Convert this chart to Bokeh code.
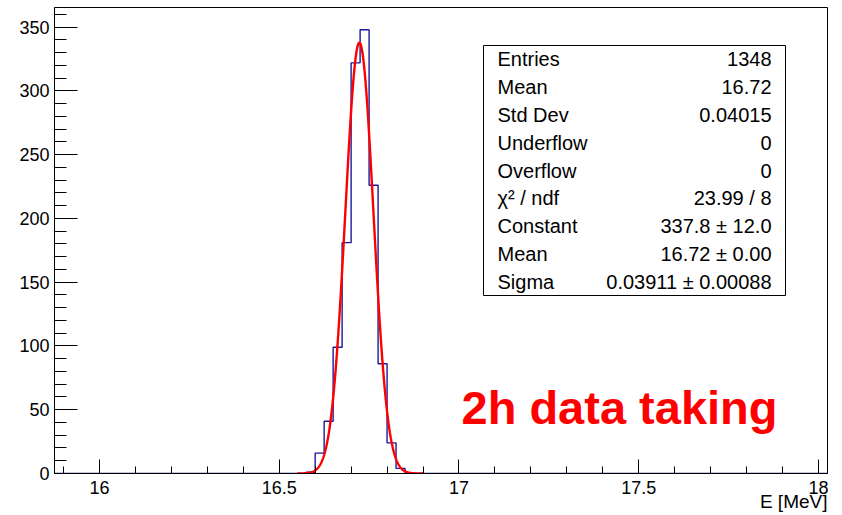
import numpy as np
from bokeh.plotting import figure
from bokeh.models import (Range1d, FixedTicker, CustomJSTickFormatter, Label,
                          BoxAnnotation, LinearAxis)
from bokeh.embed import file_html
from bokeh.resources import INLINE

# ---- data ----
x_min, x_max = 15.875, 18.025
y_max = 365.4
bin_width = 0.025
bin_left_edges = [16.575, 16.600, 16.625, 16.650, 16.675, 16.700,
                  16.725, 16.750, 16.775, 16.800, 16.825]
counts = [1, 16, 41, 99, 181, 322, 348, 226, 86, 24, 4]

fit_constant = 337.8
fit_mean = 16.723
fit_sigma = 0.03911
fit_lo, fit_hi = 16.55, 16.90

x_major = [16.0, 16.5, 17.0, 17.5, 18.0]
x_minor = [round(15.9 + 0.1 * i, 1) for i in range(22)]
y_major = [0, 50, 100, 150, 200, 250, 300, 350]
y_minor = list(range(0, 370, 10))
x_title = "E [MeV]"

stat_names = ["Entries", "Mean", "Std Dev", "Underflow", "Overflow",
              "χ² / ndf", "Constant", "Mean", "Sigma"]
stat_values = ["1348", "16.72", "0.04015", "0", "0",
               "23.99 / 8", "337.8 ± 12.0", "16.72 ± 0.00", "0.03911 ± 0.00088"]

W, H = 842, 515
FL, FR, FT, FB = 54, 827, 7, 473  # frame in pixel coords (top-left origin)

p = figure(width=W, height=H, output_backend="svg", toolbar_location=None,
           x_range=Range1d(x_min, x_max), y_range=Range1d(0, y_max),
           min_border_left=FL, min_border_right=W - FR,
           min_border_top=FT, min_border_bottom=H - FB)
p.grid.visible = False
p.outline_line_color = "black"
p.outline_line_width = 1
p.background_fill_color = "white"
p.border_fill_color = "white"

# histogram outline
edges = list(bin_left_edges) + [bin_left_edges[-1] + bin_width]
xs = [x_min] + edges + [x_max]
ys = [0] + list(counts) + [0, 0]
p.step(xs, ys, mode="after", line_color="#1a1a9a", line_width=1.4)

# gaussian fit
xf = np.linspace(fit_lo, fit_hi, 400)
yf = fit_constant * np.exp(-0.5 * ((xf - fit_mean) / fit_sigma) ** 2)
p.line(xf, yf, line_color="#ff0000", line_width=2.4)

font = "Liberation Sans"
xa = p.xaxis[0]
ya = p.yaxis[0]
for ax in (xa, ya):
    ax.axis_line_color = "black"
    ax.major_tick_line_color = "black"
    ax.minor_tick_line_color = "black"
    ax.major_tick_out = 0
    ax.minor_tick_out = 0
    ax.major_label_text_font = font
    ax.major_label_text_font_size = "18px"
    ax.major_label_text_color = "black"
    ax.axis_label = None

xa.ticker = FixedTicker(ticks=x_major, minor_ticks=x_minor)
xa.formatter = CustomJSTickFormatter(code="return String(Math.round(tick*10)/10)")
xa.major_tick_in = 14
xa.minor_tick_in = 7
xa.major_label_standoff = 7

ya.ticker = FixedTicker(ticks=y_major, minor_ticks=y_minor)
ya.major_tick_in = 23
ya.minor_tick_in = 12
ya.major_label_standoff = 5

# x-axis title, right-aligned to the frame end: a second, bare axis below
title_px = 19
px_per_unit = (FR - FL) / (x_max - x_min)
title_w = 3.557 * title_px  # Liberation Sans advance widths of "E [MeV]"
title_pos = x_max - (title_w / 2) / px_per_unit
xt = LinearAxis(ticker=FixedTicker(ticks=[title_pos], minor_ticks=[]),
                major_label_overrides={title_pos: x_title},
                axis_line_color=None, major_tick_line_color=None,
                minor_tick_line_color=None, major_tick_in=0, major_tick_out=0,
                minor_tick_in=0, minor_tick_out=0,
                major_label_text_font=font, major_label_text_font_size=f"{title_px}px",
                major_label_text_color="black", major_label_standoff=-6,
                axis_label=None)
p.add_layout(xt, "below")


def sx(x_pix):
    # screen units are relative to the frame's left edge
    return x_pix - FL


def sy(y_pix):
    # screen units are relative to the frame's bottom edge, upward
    return FB - y_pix


# stats box
bx0, bx1, by0, by1 = 483, 785, 45, 295
p.add_layout(BoxAnnotation(left=sx(bx0), right=sx(bx1), top=sy(by0), bottom=sy(by1),
                           left_units="screen", right_units="screen",
                           top_units="screen", bottom_units="screen",
                           fill_color="white", fill_alpha=1.0,
                           line_color="black", line_width=1, line_alpha=1.0))
row_h = (by1 - by0) / len(stat_names)
for i, (n, v) in enumerate(zip(stat_names, stat_values)):
    yc = by0 + row_h * (i + 0.5)
    p.add_layout(Label(x=sx(497), y=sy(yc), x_units="screen", y_units="screen",
                       text=n, text_font=font, text_font_size="20px",
                       text_align="left", text_baseline="middle", text_color="black"))
    p.add_layout(Label(x=sx(771), y=sy(yc), x_units="screen", y_units="screen",
                       text=v, text_font=font, text_font_size="20px",
                       text_align="right", text_baseline="middle", text_color="black"))

p.add_layout(Label(x=sx(461), y=sy(407), x_units="screen", y_units="screen",
                   text="2h data taking", text_font=font, text_font_size="47px",
                   text_font_style="bold", text_align="left", text_baseline="alphabetic",
                   text_color="#ff0000"))

open("out.html", "w").write(file_html(p, INLINE))
